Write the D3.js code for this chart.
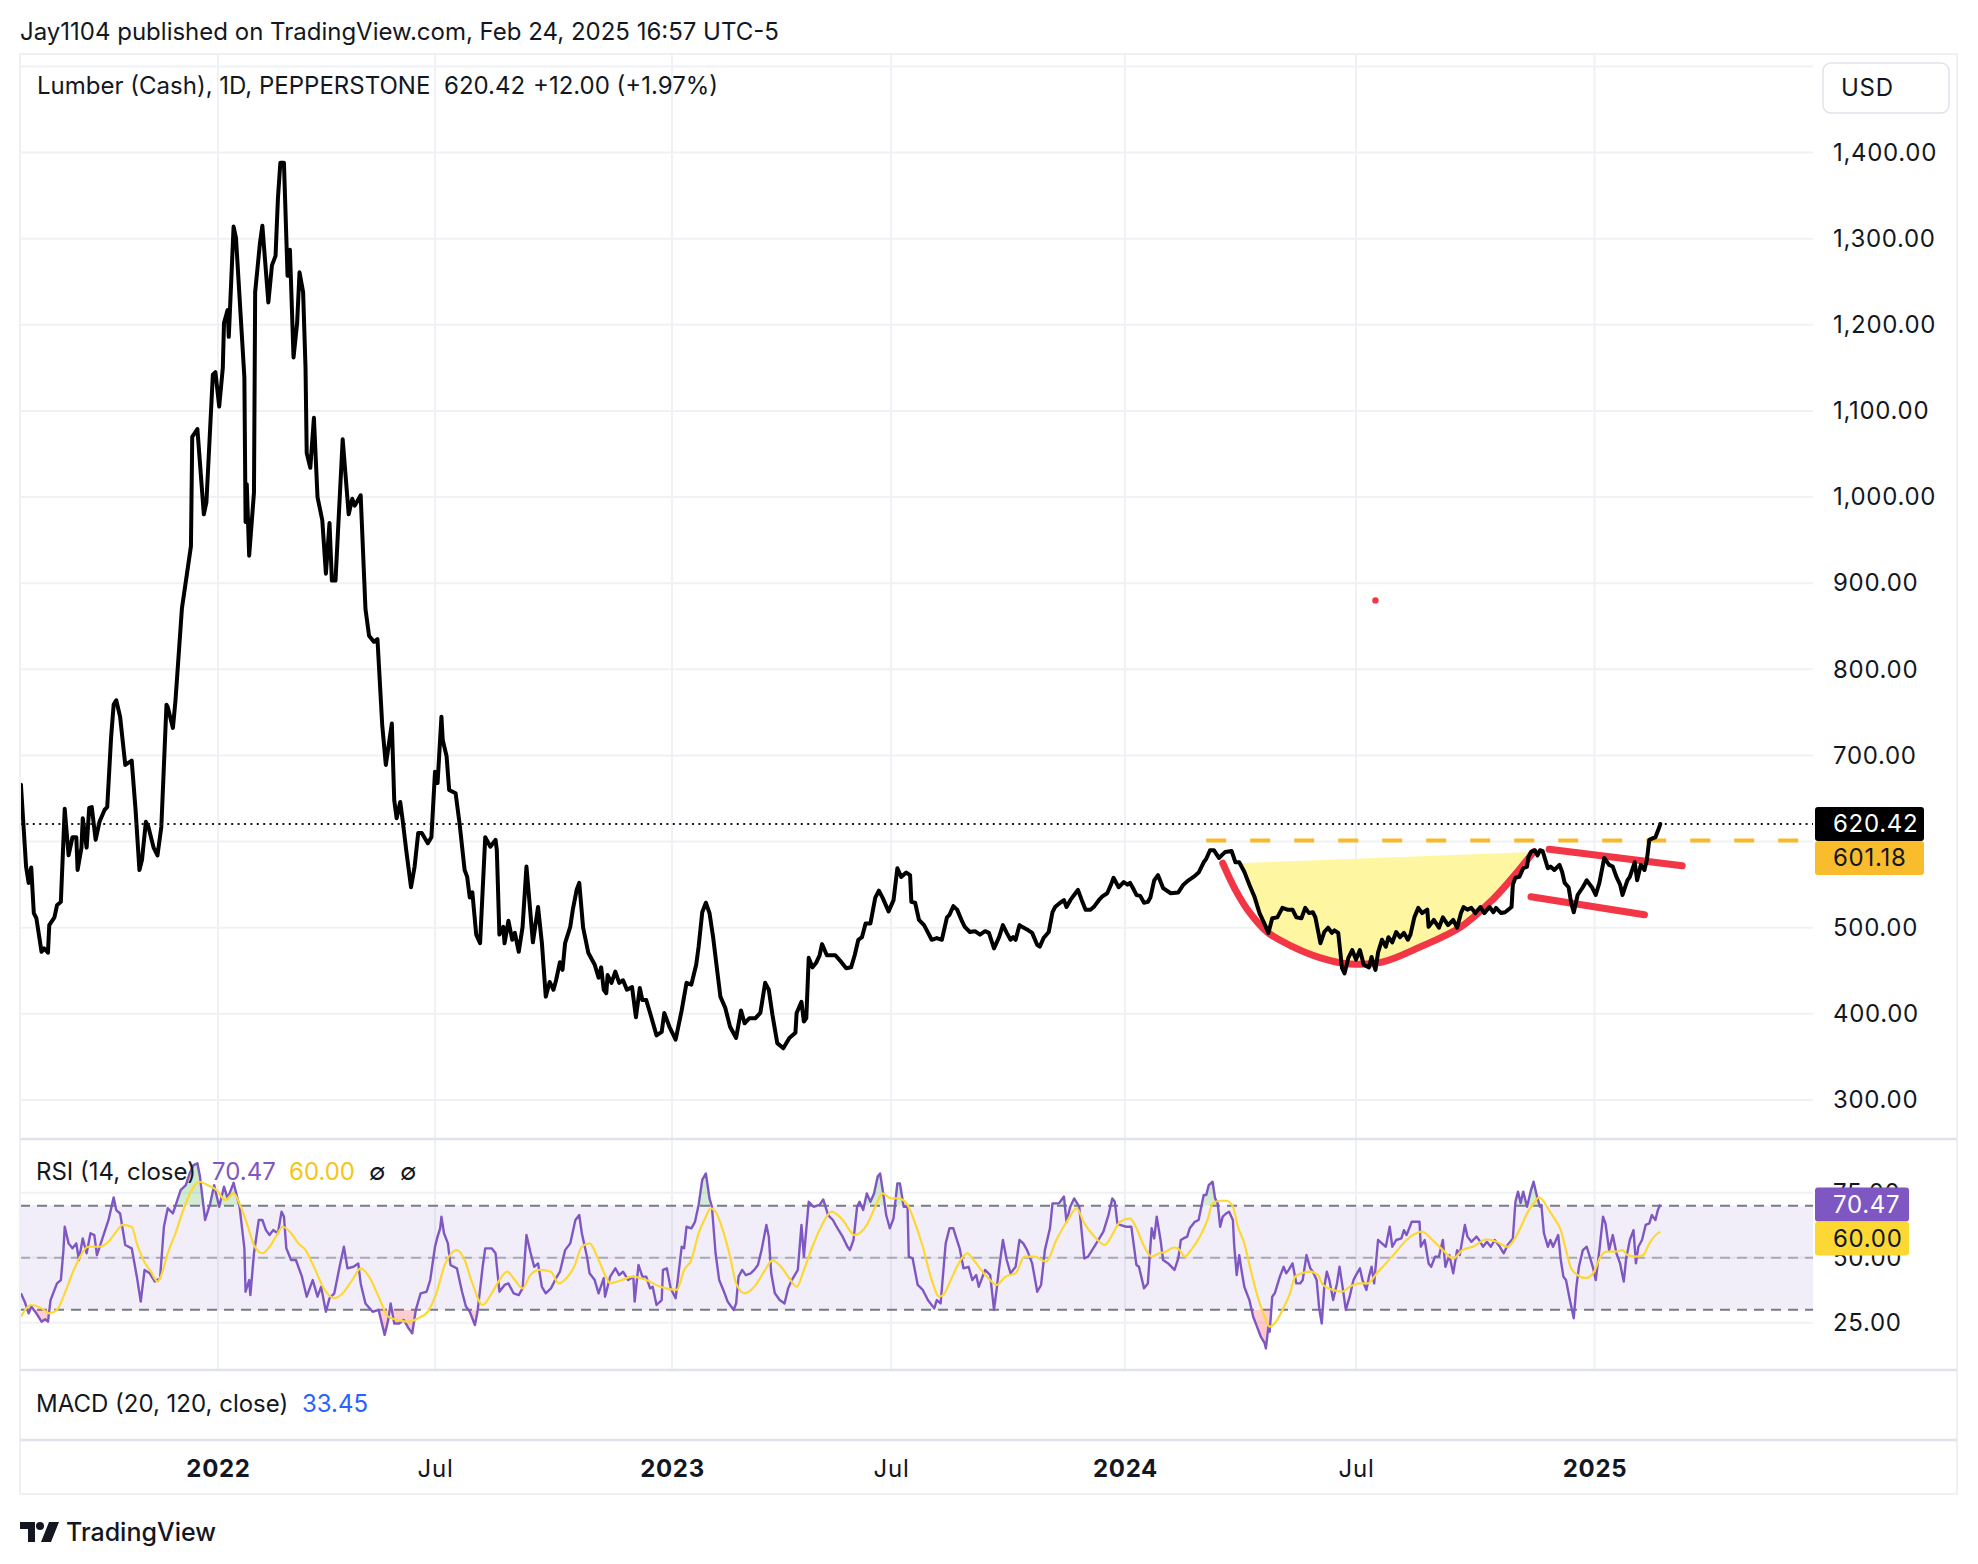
<!DOCTYPE html>
<html>
<head>
<meta charset="utf-8">
<title>Lumber (Cash), 1D</title>
<script src="https://cdn.jsdelivr.net/npm/d3@7"></script>
<style>
  body { margin: 0; background: #fff; }
  svg text { font-family: Inter, "Noto Sans", "Liberation Sans", sans-serif; }
</style>
</head>
<body>
<script>
// ---- values ----
const priceSeries = [
  ["2021-08-01",666],["2021-08-05",571],["2021-08-07",552],["2021-08-09",570],["2021-08-11",517],["2021-08-13",511],
  ["2021-08-17",472],["2021-08-19",476],["2021-08-22",471],["2021-08-23",503],["2021-08-27",512],["2021-08-29",526],
  ["2021-09-01",530],["2021-09-04",638],["2021-09-07",584],["2021-09-10",605],["2021-09-13",605],["2021-09-14",567],
  ["2021-09-17",593],["2021-09-18",627],["2021-09-21",593],["2021-09-23",639],["2021-09-25",640],["2021-09-28",602],
  ["2021-10-01",623],["2021-10-05",637],["2021-10-07",640],["2021-10-10",721],["2021-10-12",759],["2021-10-14",764],
  ["2021-10-17",745],["2021-10-21",689],["2021-10-26",694],["2021-10-29",637],["2021-11-01",567],["2021-11-03",579],
  ["2021-11-06",623],["2021-11-08",617],["2021-11-12",593],["2021-11-15",584],["2021-11-18",617],["2021-11-22",759],
  ["2021-11-23",756],["2021-11-27",732],["2021-11-29",764],["2021-12-04",871],["2021-12-08",912],["2021-12-11",943],
  ["2021-12-12",1070],["2021-12-16",1079],["2021-12-21",980],["2021-12-23",994],["2021-12-28",1142],["2021-12-30",1145],
  ["2022-01-02",1105],["2022-01-05",1150],["2022-01-06",1202],["2022-01-09",1217],["2022-01-10",1186],["2022-01-14",1314],
  ["2022-01-16",1301],["2022-01-23",1139],["2022-01-24",971],["2022-01-25",1015],["2022-01-27",932],["2022-01-31",1005],
  ["2022-02-01",1238],["2022-02-05",1295],["2022-02-07",1315],["2022-02-12",1226],["2022-02-15",1269],["2022-02-18",1280],
  ["2022-02-20",1347],["2022-02-22",1388],["2022-02-25",1388],["2022-02-28",1257],["2022-03-02",1287],["2022-03-05",1162],
  ["2022-03-08",1202],["2022-03-10",1261],["2022-03-13",1238],["2022-03-15",1150],["2022-03-16",1051],["2022-03-19",1034],
  ["2022-03-22",1092],["2022-03-25",1000],["2022-03-29",973],["2022-04-01",911],["2022-04-04",970],["2022-04-06",903],
  ["2022-04-09",903],["2022-04-15",1067],["2022-04-20",980],["2022-04-23",998],["2022-04-25",990],["2022-04-30",1002],
  ["2022-05-04",870],["2022-05-07",839],["2022-05-11",832],["2022-05-14",835],["2022-05-18",735],["2022-05-21",689],
  ["2022-05-26",737],["2022-05-28",648],["2022-05-30",627],["2022-06-02",646],["2022-06-04",625],["2022-06-07",590],
  ["2022-06-11",547],["2022-06-14",571],["2022-06-17",610],["2022-06-20",610],["2022-06-25",598],["2022-06-28",605],
  ["2022-07-01",681],["2022-07-03",668],["2022-07-06",745],["2022-07-07",718],["2022-07-10",699],["2022-07-12",660],
  ["2022-07-17",656],["2022-07-20",622],["2022-07-24",567],["2022-07-26",559],["2022-07-28",535],["2022-07-30",541],
  ["2022-08-02",492],["2022-08-05",482],["2022-08-09",605],["2022-08-13",594],["2022-08-17",602],["2022-08-18",590],
  ["2022-08-20",492],["2022-08-23",501],["2022-08-24",482],["2022-08-27",508],["2022-08-30",486],["2022-09-01",494],
  ["2022-09-04",472],["2022-09-07",501],["2022-09-10",571],["2022-09-12",536],["2022-09-15",483],["2022-09-19",524],
  ["2022-09-22",482],["2022-09-25",420],["2022-09-28",437],["2022-10-01",428],["2022-10-03",439],["2022-10-06",460],
  ["2022-10-08",451],["2022-10-10",482],["2022-10-14",501],["2022-10-16",521],["2022-10-19",544],["2022-10-21",552],
  ["2022-10-24",500],["2022-10-28",471],["2022-11-02",457],["2022-11-05",442],["2022-11-07",454],["2022-11-09",428],
  ["2022-11-11",424],["2022-11-12",445],["2022-11-15",436],["2022-11-18",449],["2022-11-21",436],["2022-11-24",439],
  ["2022-11-27",428],["2022-12-01",431],["2022-12-04",396],["2022-12-07",430],["2022-12-09",416],["2022-12-12",416],
  ["2022-12-15",401],["2022-12-20",375],["2022-12-24",379],["2022-12-26",401],["2022-12-30",385],
  ["2023-01-04",370],["2023-01-09",404],["2023-01-13",436],["2023-01-17",434],["2023-01-21",457],["2023-01-23",478],
  ["2023-01-26",518],["2023-01-29",529],["2023-02-01",517],["2023-02-04",489],["2023-02-07",454],["2023-02-10",420],
  ["2023-02-14",407],["2023-02-18",385],["2023-02-23",372],["2023-02-27",404],["2023-03-02",389],["2023-03-06",395],
  ["2023-03-11",395],["2023-03-15",401],["2023-03-19",436],["2023-03-22",428],["2023-03-25",399],["2023-03-29",366],
  ["2023-04-03",360],["2023-04-08",372],["2023-04-13",378],["2023-04-14",401],["2023-04-18",414],["2023-04-20",391],
  ["2023-04-22",395],["2023-04-24",465],["2023-04-27",454],["2023-04-30",459],["2023-05-03",468],["2023-05-05",481],
  ["2023-05-09",468],["2023-05-16",468],["2023-05-21",460],["2023-05-25",453],["2023-05-29",454],["2023-06-01",468],
  ["2023-06-04",486],["2023-06-07",489],["2023-06-10",505],["2023-06-14",505],["2023-06-18",535],["2023-06-21",543],
  ["2023-06-24",535],["2023-06-29",519],["2023-07-03",532],["2023-07-06",569],["2023-07-09",559],["2023-07-13",564],
  ["2023-07-16",561],["2023-07-17",530],["2023-07-20",529],["2023-07-23",509],["2023-07-27",503],["2023-08-02",486],
  ["2023-08-06",488],["2023-08-10",486],["2023-08-14",512],["2023-08-16",515],["2023-08-19",525],["2023-08-22",521],
  ["2023-08-26",507],["2023-08-28",501],["2023-09-01",495],["2023-09-05",496],["2023-09-09",492],["2023-09-13",496],
  ["2023-09-16",494],["2023-09-20",476],["2023-09-24",489],["2023-09-27",503],["2023-09-30",494],["2023-10-03",486],
  ["2023-10-05",489],["2023-10-07",486],["2023-10-10",503],["2023-10-12",501],["2023-10-17",497],["2023-10-20",494],
  ["2023-10-24",480],["2023-10-26",478],["2023-10-29",488],["2023-11-02",495],["2023-11-05",518],["2023-11-07",524],
  ["2023-11-11",529],["2023-11-14",532],["2023-11-16",524],["2023-11-19",532],["2023-11-23",540],["2023-11-25",544],
  ["2023-11-28",532],["2023-12-01",521],["2023-12-05",521],["2023-12-08",525],["2023-12-12",533],["2023-12-14",536],
  ["2023-12-18",540],["2023-12-21",550],["2023-12-23",558],["2023-12-27",547],["2023-12-31",553],
  ["2024-01-03",550],["2024-01-05",552],["2024-01-08",544],["2024-01-10",538],["2024-01-13",537],["2024-01-16",529],
  ["2024-01-19",530],["2024-01-21",535],["2024-01-24",555],["2024-01-27",561],["2024-01-31",546],["2024-02-06",540],
  ["2024-02-12",541],["2024-02-16",550],["2024-02-20",555],["2024-02-24",559],["2024-02-28",564],["2024-03-03",576],
  ["2024-03-05",580],["2024-03-08",590],["2024-03-11",590],["2024-03-15",581],["2024-03-20",588],["2024-03-25",589],
  ["2024-03-28",576],["2024-03-31",576],["2024-04-04",565],["2024-04-08",550],["2024-04-12",536],["2024-04-16",517],
  ["2024-04-21",501],["2024-04-23",494],["2024-04-26",511],["2024-04-30",512],["2024-05-04",523],["2024-05-08",521],
  ["2024-05-12",521],["2024-05-15",512],["2024-05-19",511],["2024-05-22",523],["2024-05-25",517],["2024-05-28",518],
  ["2024-05-30",512],["2024-06-03",482],["2024-06-06",495],["2024-06-09",500],["2024-06-12",494],["2024-06-14",497],
  ["2024-06-17",494],["2024-06-20",453],["2024-06-22",447],["2024-06-25",465],["2024-06-28",474],["2024-07-01",463],
  ["2024-07-04",474],["2024-07-07",457],["2024-07-11",454],["2024-07-13",466],["2024-07-16",451],["2024-07-18",471],
  ["2024-07-21",486],["2024-07-24",478],["2024-07-26",489],["2024-07-29",483],["2024-08-01",495],["2024-08-04",489],
  ["2024-08-07",494],["2024-08-10",486],["2024-08-12",492],["2024-08-15",512],["2024-08-18",523],["2024-08-21",517],
  ["2024-08-25",521],["2024-08-26",501],["2024-08-30",509],["2024-09-03",500],["2024-09-06",512],["2024-09-10",503],
  ["2024-09-14",509],["2024-09-17",500],["2024-09-20",517],["2024-09-22",524],["2024-09-25",521],["2024-09-28",523],
  ["2024-10-01",517],["2024-10-05",524],["2024-10-08",517],["2024-10-12",524],["2024-10-15",518],["2024-10-17",523],
  ["2024-10-21",517],["2024-10-24",518],["2024-10-29",524],["2024-10-30",550],["2024-11-01",558],["2024-11-04",559],
  ["2024-11-07",569],["2024-11-10",571],["2024-11-11",582],["2024-11-13",588],["2024-11-16",590],["2024-11-18",584],
  ["2024-11-20",590],["2024-11-22",589],["2024-11-24",579],["2024-11-26",569],["2024-11-28",571],["2024-12-01",567],
  ["2024-12-05",573],["2024-12-07",565],["2024-12-09",552],["2024-12-12",547],["2024-12-14",529],["2024-12-16",518],
  ["2024-12-19",538],["2024-12-23",547],["2024-12-26",555],["2024-12-30",547],
  ["2025-01-02",538],["2025-01-05",552],["2025-01-09",581],["2025-01-13",573],["2025-01-16",571],["2025-01-19",559],
  ["2025-01-22",550],["2025-01-24",538],["2025-01-28",555],["2025-01-30",559],["2025-02-03",576],["2025-02-05",555],
  ["2025-02-08",573],["2025-02-11",567],["2025-02-13",579],["2025-02-15",602],["2025-02-18",604],["2025-02-20",605],
  ["2025-02-23",616],["2025-02-24",620.42]
];

const rsiSeries = [
  ["2021-08-01",36.3],["2021-08-04",33],["2021-08-07",28.6],["2021-08-09",31.2],["2021-08-13",28.6],["2021-08-17",25.4],
  ["2021-08-20",26.3],["2021-08-22",25.4],["2021-08-24",33.7],["2021-08-26",36.3],["2021-08-29",40.1],["2021-09-01",41.4],
  ["2021-09-03",52.9],["2021-09-04",61.9],["2021-09-07",55.5],["2021-09-10",53.6],["2021-09-13",55.5],["2021-09-15",49.1],
  ["2021-09-18",57.4],["2021-09-21",51.7],["2021-09-24",59.4],["2021-09-27",58.7],["2021-09-29",51],["2021-10-02",55.5],
  ["2021-10-08",64.5],["2021-10-12",73.2],["2021-10-14",68.3],["2021-10-17",67],["2021-10-21",54.9],["2021-10-26",53.6],
  ["2021-10-30",42.7],["2021-11-02",33.1],["2021-11-05",45.3],["2021-11-09",44],["2021-11-13",40.8],["2021-11-17",42.1],
  ["2021-11-20",61.9],["2021-11-23",69],["2021-11-27",67],["2021-12-03",76],["2021-12-07",77.9],["2021-12-10",82.4],
  ["2021-12-13",85.6],["2021-12-16",86.3],["2021-12-18",81.2],["2021-12-22",64.5],["2021-12-26",70.9],["2021-12-29",77.9],
  ["2022-01-02",69.6],["2022-01-06",77.3],["2022-01-09",72.8],["2022-01-14",78.8],["2022-01-19",69.6],["2022-01-23",53.6],
  ["2022-01-24",36.9],["2022-01-27",41.4],["2022-01-28",35.6],["2022-01-31",51.7],["2022-02-04",64.5],["2022-02-07",64.5],
  ["2022-02-10",60.6],["2022-02-13",58.7],["2022-02-16",60.6],["2022-02-20",59.4],["2022-02-23",67.7],["2022-02-25",65.8],
  ["2022-02-27",53.6],["2022-03-03",49.1],["2022-03-07",49.1],["2022-03-12",42.7],["2022-03-16",35],["2022-03-21",41.4],
  ["2022-03-25",35],["2022-03-28",38.8],["2022-04-01",29.2],["2022-04-04",34.4],["2022-04-08",36.3],["2022-04-13",47.8],
  ["2022-04-16",54.2],["2022-04-19",45.9],["2022-04-24",46.5],["2022-04-28",47.8],["2022-04-30",40.1],["2022-05-04",32.4],
  ["2022-05-10",29.2],["2022-05-15",29.9],["2022-05-20",20.3],["2022-05-23",26],["2022-05-25",32.4],["2022-05-28",24.7],
  ["2022-06-01",24.7],["2022-06-05",26],["2022-06-09",22.8],["2022-06-12",20.9],["2022-06-15",29.9],["2022-06-19",36.3],
  ["2022-06-24",36.9],["2022-06-27",41.4],["2022-07-01",54.2],["2022-07-03",58.1],["2022-07-05",61.3],["2022-07-06",65.8],
  ["2022-07-08",59.4],["2022-07-11",55.5],["2022-07-13",47.2],["2022-07-18",45.9],["2022-07-22",36.9],["2022-07-25",31.2],
  ["2022-07-28",29.2],["2022-08-01",24.1],["2022-08-03",29.2],["2022-08-07",46.5],["2022-08-09",53.6],["2022-08-14",53.6],
  ["2022-08-17",51.7],["2022-08-20",36.9],["2022-08-24",39.5],["2022-08-27",40.1],["2022-08-31",36.3],["2022-09-04",35.6],
  ["2022-09-07",38.2],["2022-09-10",58.7],["2022-09-13",52.3],["2022-09-16",46.5],["2022-09-19",47.8],["2022-09-22",38.8],
  ["2022-09-25",36.3],["2022-09-29",38.2],["2022-10-03",42.1],["2022-10-06",44.6],["2022-10-10",52.9],["2022-10-14",55.5],
  ["2022-10-18",64.5],["2022-10-21",66.4],["2022-10-23",59.4],["2022-10-27",50.4],["2022-10-29",44],["2022-11-02",41.4],
  ["2022-11-05",36.3],["2022-11-09",42.1],["2022-11-10",35],["2022-11-14",42.7],["2022-11-18",45.9],["2022-11-21",43.3],
  ["2022-11-24",44.6],["2022-11-28",41.4],["2022-12-02",42.7],["2022-12-03",33.1],["2022-12-06",47.2],["2022-12-09",42.7],
  ["2022-12-12",42.7],["2022-12-15",38.2],["2022-12-17",38.8],["2022-12-20",31.8],["2022-12-24",33.7],["2022-12-25",45.3],
  ["2022-12-28",45.9],["2022-12-31",38.2],
  ["2023-01-04",34.4],["2023-01-09",54.2],["2023-01-11",53.6],["2023-01-13",61.9],["2023-01-17",61.3],["2023-01-20",63.8],
  ["2023-01-23",70.3],["2023-01-26",79.9],["2023-01-29",82.4],["2023-02-01",72.8],["2023-02-03",69.6],["2023-02-06",51.7],
  ["2023-02-09",41.4],["2023-02-13",36.9],["2023-02-16",33.1],["2023-02-21",29.9],["2023-02-23",32.4],["2023-02-25",42.7],
  ["2023-02-28",45.3],["2023-03-03",43.3],["2023-03-07",44],["2023-03-10",45.3],["2023-03-13",47.2],["2023-03-16",52.9],
  ["2023-03-20",62.6],["2023-03-22",58.1],["2023-03-24",44],["2023-03-27",36.3],["2023-03-31",33.7],["2023-04-04",32.4],
  ["2023-04-07",38.2],["2023-04-10",41.4],["2023-04-15",45.3],["2023-04-18",62.6],["2023-04-20",50.4],["2023-04-24",71.5],
  ["2023-04-28",69.6],["2023-05-03",70.3],["2023-05-06",72.4],["2023-05-10",66.4],["2023-05-14",64.5],["2023-05-17",61.9],
  ["2023-05-22",58.1],["2023-05-26",54.2],["2023-05-28",52.9],["2023-05-31",56.8],["2023-06-03",69.6],["2023-06-05",71.5],
  ["2023-06-08",68.3],["2023-06-11",74.7],["2023-06-14",71.5],["2023-06-17",74.7],["2023-06-20",81.2],["2023-06-22",82.4],
  ["2023-06-25",73.5],["2023-06-27",66.4],["2023-06-30",61.3],["2023-07-03",65.1],["2023-07-06",78.6],["2023-07-08",78.6],
  ["2023-07-11",69.6],["2023-07-14",69.6],["2023-07-15",50.4],["2023-07-18",49.7],["2023-07-22",39.5],["2023-07-26",37.6],
  ["2023-07-30",33.7],["2023-08-04",30.5],["2023-08-06",33.7],["2023-08-09",32.4],["2023-08-13",55.5],["2023-08-16",61.3],
  ["2023-08-19",61.3],["2023-08-21",58.1],["2023-08-24",53.6],["2023-08-27",45.9],["2023-08-31",46.5],["2023-09-03",41.4],
  ["2023-09-06",43.3],["2023-09-08",38.8],["2023-09-13",45.3],["2023-09-17",43.3],["2023-09-20",29.9],["2023-09-22",37.6],
  ["2023-09-24",45.9],["2023-09-27",56.8],["2023-09-30",49.1],["2023-10-03",44],["2023-10-07",46.5],["2023-10-10",56.8],
  ["2023-10-13",55.5],["2023-10-16",52.9],["2023-10-20",47.8],["2023-10-24",36.9],["2023-10-27",39.5],["2023-10-30",52.9],
  ["2023-11-03",61.3],["2023-11-05",70.9],["2023-11-10",70.9],["2023-11-14",73.5],["2023-11-16",63.8],["2023-11-19",69.6],
  ["2023-11-22",72.8],["2023-11-26",69.6],["2023-11-30",49.7],["2023-12-03",50.4],["2023-12-07",53.6],["2023-12-11",56.8],
  ["2023-12-15",60],["2023-12-19",66.4],["2023-12-22",72.8],["2023-12-24",71.5],["2023-12-26",63.2],["2023-12-28",62.6],
  ["2024-01-02",61.9],["2024-01-06",61.9],["2024-01-10",47.2],["2024-01-12",46.5],["2024-01-16",38.2],["2024-01-19",40.1],
  ["2024-01-22",61.3],["2024-01-24",57.4],["2024-01-26",65.8],["2024-01-29",56.8],["2024-01-31",49.1],["2024-02-04",47.8],
  ["2024-02-09",45.3],["2024-02-12",49.7],["2024-02-14",56.8],["2024-02-16",57.4],["2024-02-19",58.1],["2024-02-21",61.3],
  ["2024-02-25",63.8],["2024-02-28",64.5],["2024-03-03",74.1],["2024-03-05",74.1],["2024-03-07",77.9],["2024-03-10",79.2],
  ["2024-03-12",72.8],["2024-03-14",70.9],["2024-03-16",61.9],["2024-03-18",65.8],["2024-03-21",67.1],["2024-03-23",67.7],
  ["2024-03-26",64.5],["2024-03-27",54.9],["2024-03-29",43.3],["2024-03-31",51],["2024-04-02",44.6],["2024-04-04",38.8],
  ["2024-04-08",33.7],["2024-04-11",27.3],["2024-04-14",23.5],["2024-04-17",19.6],["2024-04-20",17.1],["2024-04-21",15.1],
  ["2024-04-23",23.5],["2024-04-24",21.5],["2024-04-26",35],["2024-04-28",36.3],["2024-05-02",42.7],["2024-05-05",46.5],
  ["2024-05-07",44],["2024-05-09",45.3],["2024-05-12",47.8],["2024-05-15",40.1],["2024-05-18",40.1],["2024-05-20",41.4],
  ["2024-05-23",51],["2024-05-26",45.9],["2024-05-28",44.6],["2024-05-31",41.4],["2024-06-02",30.5],["2024-06-04",24.7],
  ["2024-06-06",38.8],["2024-06-08",44.6],["2024-06-10",41.4],["2024-06-13",33.7],["2024-06-16",40.1],["2024-06-18",46.5],
  ["2024-06-20",40.1],["2024-06-23",29.9],["2024-06-26",35],["2024-06-29",41.4],["2024-07-01",43.3],["2024-07-04",45.9],
  ["2024-07-06",41.4],["2024-07-09",37.6],["2024-07-11",42.7],["2024-07-13",46.5],["2024-07-15",40.1],["2024-07-18",56.8],
  ["2024-07-21",55.5],["2024-07-24",54.2],["2024-07-27",61.9],["2024-07-29",54.2],["2024-08-01",56.8],["2024-08-05",57.4],
  ["2024-08-07",60.6],["2024-08-09",58.7],["2024-08-13",63.8],["2024-08-17",63.8],["2024-08-19",63.8],["2024-08-20",54.2],
  ["2024-08-23",56.8],["2024-08-26",47.8],["2024-08-28",46.5],["2024-08-31",50.4],["2024-09-03",50.4],["2024-09-06",56.8],
  ["2024-09-08",46.5],["2024-09-11",51],["2024-09-14",44],["2024-09-17",52.9],["2024-09-19",51],["2024-09-23",62.6],
  ["2024-09-25",58.1],["2024-09-28",56.1],["2024-10-02",58.1],["2024-10-04",56.8],["2024-10-07",54.2],["2024-10-10",56.1],
  ["2024-10-13",54.2],["2024-10-16",56.8],["2024-10-20",54.2],["2024-10-23",51.7],["2024-10-26",54.9],["2024-10-30",57.4],
  ["2024-11-01",71.5],["2024-11-03",75.4],["2024-11-05",71],["2024-11-07",75.4],["2024-11-10",69.6],["2024-11-13",76],
  ["2024-11-15",79.2],["2024-11-18",72.8],["2024-11-20",69.6],["2024-11-21",70.3],["2024-11-23",59.4],["2024-11-26",54.2],
  ["2024-11-28",56.8],["2024-11-30",54.2],["2024-12-04",58.7],["2024-12-06",49.1],["2024-12-08",42.7],["2024-12-10",41.4],
  ["2024-12-13",33.7],["2024-12-16",26.7],["2024-12-18",38.8],["2024-12-20",46.5],["2024-12-23",52.9],["2024-12-26",54.2],
  ["2024-12-28",51],["2024-12-31",45.9],
  ["2025-01-02",41.4],["2025-01-05",52.9],["2025-01-08",65.8],["2025-01-10",63.2],["2025-01-13",52.9],["2025-01-16",58.7],
  ["2025-01-19",51.7],["2025-01-22",47.8],["2025-01-25",40.8],["2025-01-27",49.7],["2025-01-30",56.8],["2025-02-02",60.6],
  ["2025-02-04",47.8],["2025-02-06",54.2],["2025-02-09",56.8],["2025-02-12",62.6],["2025-02-15",63.2],["2025-02-17",66.4],
  ["2025-02-20",64.5],["2025-02-22",68.3],["2025-02-24",70.47]
];

const rsiMaSeries = [
  ["2021-08-01",27.3],["2021-08-09",31.8],["2021-08-17",30.5],["2021-08-23",28.6],["2021-08-29",29.9],["2021-09-04",36.3],
  ["2021-09-10",44],["2021-09-16",50.4],["2021-09-22",54.2],["2021-10-01",54.2],["2021-10-08",56.2],["2021-10-14",60],
  ["2021-10-19",62.6],["2021-10-26",61.9],["2021-10-30",55.5],["2021-11-04",49.1],["2021-11-10",44.6],["2021-11-15",40.8],
  ["2021-11-18",43.3],["2021-11-23",51.7],["2021-11-29",59.4],["2021-12-05",68.3],["2021-12-11",75.4],["2021-12-17",79.2],
  ["2021-12-24",77.9],["2021-12-31",76],["2022-01-07",72.2],["2022-01-14",74.7],["2022-01-20",69.6],["2022-01-26",61.9],
  ["2022-01-31",54.9],["2022-02-07",51.7],["2022-02-13",54.2],["2022-02-19",58.7],["2022-02-24",61.9],["2022-03-03",59.4],
  ["2022-03-09",55.5],["2022-03-15",52.9],["2022-03-22",46.5],["2022-03-31",37.6],["2022-04-08",34.4],["2022-04-15",36.3],
  ["2022-04-23",41.4],["2022-04-30",45.9],["2022-05-07",42.7],["2022-05-15",35],["2022-05-23",27.3],["2022-05-31",26],
  ["2022-06-09",25.4],["2022-06-17",26.7],["2022-06-25",29.2],["2022-07-02",36.3],["2022-07-09",47.8],["2022-07-18",52.9],
  ["2022-07-24",49.1],["2022-07-30",40.1],["2022-08-07",31.8],["2022-08-14",36.3],["2022-08-20",41.4],["2022-08-26",44.6],
  ["2022-09-01",41.4],["2022-09-07",38.2],["2022-09-13",43.3],["2022-09-20",45.3],["2022-09-29",44.6],["2022-10-05",40.1],
  ["2022-10-11",42.1],["2022-10-17",46.5],["2022-10-23",54.2],["2022-10-29",55.5],["2022-11-05",49.1],["2022-11-12",41.4],
  ["2022-11-14",40.1],["2022-11-23",41.4],["2022-12-01",42.7],["2022-12-12",41.4],["2022-12-23",38.8],["2023-01-05",37.6],
  ["2023-01-11",45.3],["2023-01-17",49.1],["2023-01-23",59.4],["2023-01-29",65.8],["2023-02-02",69],["2023-02-06",67.7],
  ["2023-02-12",60.6],["2023-02-18",50.4],["2023-02-23",40.1],["2023-03-02",36.3],["2023-03-10",38.8],["2023-03-19",45.3],
  ["2023-03-25",49.1],["2023-04-01",46.5],["2023-04-08",42.1],["2023-04-14",38.8],["2023-04-20",45.3],["2023-04-27",54.2],
  ["2023-05-05",62.6],["2023-05-13",67.7],["2023-05-22",64.5],["2023-06-01",58.7],["2023-06-11",62.6],["2023-06-18",69.6],
  ["2023-06-24",74.7],["2023-07-01",72.8],["2023-07-07",72.8],["2023-07-14",70.3],["2023-07-19",64.5],["2023-07-26",54.2],
  ["2023-08-02",41.4],["2023-08-08",35],["2023-08-12",36.3],["2023-08-17",41.4],["2023-08-24",48.5],["2023-08-30",51.7],
  ["2023-09-04",49.1],["2023-09-11",44.6],["2023-09-17",41.4],["2023-09-22",39.5],["2023-09-29",42.7],["2023-10-07",44],
  ["2023-10-14",50.4],["2023-10-22",50.4],["2023-10-31",48.5],["2023-11-08",56.8],["2023-11-17",64.5],["2023-11-24",69],
  ["2023-11-30",63.2],["2023-12-08",58.1],["2023-12-16",54.9],["2023-12-24",60.6],["2023-12-28",63.8],["2024-01-05",65.1],
  ["2024-01-10",61.3],["2024-01-15",55.5],["2024-01-22",50.4],["2024-01-28",51.7],["2024-02-02",52.3],["2024-02-09",54],
  ["2024-02-13",53],["2024-02-17",50.4],["2024-02-22",52.9],["2024-02-29",58.1],["2024-03-06",64.5],["2024-03-10",70.9],
  ["2024-03-16",71.9],["2024-03-21",71.9],["2024-03-26",69.6],["2024-03-30",61.9],["2024-04-04",55.5],["2024-04-09",45.3],
  ["2024-04-13",37.6],["2024-04-19",28.6],["2024-04-24",23.5],["2024-04-29",25.4],["2024-05-04",29.9],["2024-05-10",36.3],
  ["2024-05-14",42.7],["2024-05-19",44],["2024-05-26",44.6],["2024-06-01",43.3],["2024-06-05",39.5],["2024-06-13",37.6],
  ["2024-06-20",36.9],["2024-06-26",38.8],["2024-07-04",40.1],["2024-07-10",40.1],["2024-07-17",44],["2024-07-24",47.8],
  ["2024-08-01",52.3],["2024-08-09",56.8],["2024-08-14",58.7],["2024-08-21",60],["2024-08-29",56.8],["2024-09-06",52.9],
  ["2024-09-14",49.7],["2024-09-21",52.9],["2024-09-29",54.2],["2024-10-10",57.1],["2024-10-17",56.2],["2024-10-26",54.2],
  ["2024-10-30",56.2],["2024-11-04",60.6],["2024-11-10",67.1],["2024-11-16",71.5],["2024-11-19",73.2],["2024-11-22",72.2],
  ["2024-11-26",69],["2024-12-01",65.1],["2024-12-06",60.6],["2024-12-10",52.9],["2024-12-14",45.9],["2024-12-19",43.3],
  ["2024-12-25",42.1],["2024-12-31",44],["2025-01-06",50.4],["2025-01-11",52.3],["2025-01-18",52.3],["2025-01-24",52.9],
  ["2025-01-28",51],["2025-02-04",50.4],["2025-02-10",51],["2025-02-15",55.5],["2025-02-19",58.1],["2025-02-24",60]
];

const priceTicks = [300, 400, 500, 600, 700, 800, 900, 1000, 1100, 1200, 1300, 1400, 1500];
const rsiTicks = [25, 50, 75];
const rsiLevels = [70, 50, 30];
const timeTicks = ["2022-01-01","2022-07-01","2023-01-01","2023-07-01","2024-01-01","2024-07-01","2025-01-01"];
const timeTickLabels = ["2022","Jul","2023","Jul","2024","Jul","2025"];

const lastPrice = 620.42;
const lastRsi = 70.47;
const lastRsiMa = 60.00;
const macdValue = 33.45;

// user drawings on the chart
const breakoutLevel = 601.18;
const breakoutStart = "2024-03-05";
const cupArc = [["2024-03-18",575],["2024-03-28",544],["2024-04-08",518],["2024-04-22",495],["2024-05-12",478],
  ["2024-06-03",465],["2024-06-26",458],["2024-07-21",460],["2024-08-20",478],["2024-09-20",501],["2024-10-14",532],
  ["2024-10-28",555],["2024-11-15",588]];
const cupFill = [["2024-04-01",575],["2024-04-09",538],["2024-04-22",495],["2024-05-12",478],["2024-06-03",465],
  ["2024-06-26",458],["2024-07-21",460],["2024-08-20",478],["2024-09-20",501],["2024-10-14",532],["2024-10-28",555],
  ["2024-11-15",588]];
const channelUpper = [["2024-11-27",591],["2025-03-14",572]];
const channelLower = [["2024-11-13",536],["2025-02-11",515]];
const markerDot = [["2024-07-16",880]];

// ---- layout ----
const W = 1978, H = 1564;
const frame = {left: 20, right: 1957, top: 54, bottom: 1494};
const plotRight = 1813;
const mainPane = {top: 54, bottom: 1139};
const rsiPane = {top: 1139, bottom: 1370};
const macdPane = {top: 1370, bottom: 1440};
const axisX = 1833;
const FONT_SIZE = 24;
const AXIS_SIZE = 24;
const TEXT = "#131722";
const RED = "#F23645";

// TradingView spaces bars, not calendar days: piecewise time scale anchored on the half-year ticks
const timeAnchors = ["2021-07-01","2022-01-01","2022-07-01","2023-01-01","2023-07-01","2024-01-01","2024-07-01","2025-01-01","2025-07-01"];
const timeAnchorPx = [-19, 218, 435, 672, 891, 1125, 1356, 1594.5, 1815];

const parse = d3.utcParse("%Y-%m-%d");
const pts = arr => arr.map(([d, v]) => ({date: parse(d), v}));

const x = d3.scaleUtc().domain(timeAnchors.map(parse)).range(timeAnchorPx);
const y = d3.scaleLinear().domain([254.7, 1514.4]).range([mainPane.bottom, mainPane.top]);
const yR = d3.scaleLinear().domain([6.8, 95.65]).range([rsiPane.bottom, rsiPane.top]);

const svg = d3.select("body").append("svg")
  .attr("width", W).attr("height", H)
  .style("display", "block");

svg.append("rect").attr("width", W).attr("height", H).attr("fill", "#fff");

const defs = svg.append("defs");
defs.append("clipPath").attr("id", "mainClip").append("rect")
  .attr("x", frame.left).attr("y", mainPane.top)
  .attr("width", plotRight - frame.left).attr("height", mainPane.bottom - mainPane.top);
defs.append("clipPath").attr("id", "obClip").append("rect")
  .attr("x", frame.left).attr("y", rsiPane.top)
  .attr("width", plotRight - frame.left).attr("height", yR(70) - rsiPane.top);
defs.append("clipPath").attr("id", "osClip").append("rect")
  .attr("x", frame.left).attr("y", yR(30))
  .attr("width", plotRight - frame.left).attr("height", rsiPane.bottom - yR(30));

const gGreen = defs.append("linearGradient").attr("id", "obGrad").attr("x1", 0).attr("x2", 0).attr("y1", 0).attr("y2", 1);
gGreen.append("stop").attr("offset", "0%").attr("stop-color", "rgba(76,175,80,0.3)");
gGreen.append("stop").attr("offset", "100%").attr("stop-color", "rgba(76,175,80,0.02)");
const gRed = defs.append("linearGradient").attr("id", "osGrad").attr("x1", 0).attr("x2", 0).attr("y1", 0).attr("y2", 1);
gRed.append("stop").attr("offset", "0%").attr("stop-color", "rgba(242,54,69,0.02)");
gRed.append("stop").attr("offset", "100%").attr("stop-color", "rgba(242,54,69,0.3)");

// ---- grid ----
const grid = svg.append("g").attr("stroke", "#F0F1F4").attr("stroke-width", 2);
grid.selectAll("line.vx").data(timeTicks).join("line").attr("class", "vx")
  .attr("x1", d => x(parse(d))).attr("x2", d => x(parse(d)))
  .attr("y1", mainPane.top).attr("y2", rsiPane.bottom);
grid.selectAll("line.hy").data(priceTicks).join("line").attr("class", "hy")
  .attr("x1", frame.left).attr("x2", plotRight)
  .attr("y1", d => y(d)).attr("y2", d => y(d));
grid.selectAll("line.hr").data(rsiTicks).join("line").attr("class", "hr")
  .attr("x1", frame.left).attr("x2", plotRight)
  .attr("y1", d => yR(d)).attr("y2", d => yR(d));

// ---- RSI band + levels ----
svg.append("rect")
  .attr("x", frame.left).attr("y", yR(70))
  .attr("width", plotRight - frame.left).attr("height", yR(30) - yR(70))
  .attr("fill", "rgba(126,87,194,0.1)");
svg.append("g").selectAll("line").data(rsiLevels).join("line")
  .attr("x1", frame.left).attr("x2", plotRight)
  .attr("y1", d => yR(d)).attr("y2", d => yR(d))
  .attr("stroke", "#787B86").attr("stroke-width", 2)
  .attr("stroke-opacity", d => d === 50 ? 0.55 : 1)
  .attr("stroke-dasharray", "10,7");

// ---- drawings ----
const draw = svg.append("g").attr("clip-path", "url(#mainClip)");
const curve = d3.line().x(d => x(d.date)).y(d => y(d.v)).curve(d3.curveCatmullRom.alpha(0.5));

draw.append("path").attr("d", curve(pts(cupFill)) + "Z")
  .attr("fill", "#FFF59D").attr("fill-opacity", 0.95);
draw.append("path").attr("d", curve(pts(cupArc)))
  .attr("fill", "none").attr("stroke", RED).attr("stroke-width", 7).attr("stroke-linecap", "round");

const straight = d3.line().x(d => x(d.date)).y(d => y(d.v));
draw.selectAll("path.chan").data([channelUpper, channelLower]).join("path").attr("class", "chan")
  .attr("d", d => straight(pts(d)))
  .attr("fill", "none").attr("stroke", RED).attr("stroke-width", 7).attr("stroke-linecap", "round");

draw.append("line")
  .attr("x1", x(parse(breakoutStart))).attr("x2", plotRight)
  .attr("y1", y(breakoutLevel)).attr("y2", y(breakoutLevel))
  .attr("stroke", "#F9B92C").attr("stroke-width", 4).attr("stroke-dasharray", "20,24");

draw.selectAll("circle").data(pts(markerDot)).join("circle")
  .attr("cx", d => x(d.date)).attr("cy", d => y(d.v)).attr("r", 3.2).attr("fill", RED);

// ---- price ----
draw.append("path").datum(pts(priceSeries))
  .attr("d", straight)
  .attr("fill", "none").attr("stroke", "#000").attr("stroke-width", 4)
  .attr("stroke-linejoin", "round").attr("stroke-linecap", "round");

svg.append("line")
  .attr("x1", frame.left).attr("x2", plotRight)
  .attr("y1", y(lastPrice)).attr("y2", y(lastPrice))
  .attr("stroke", TEXT).attr("stroke-width", 2).attr("stroke-dasharray", "2,4.4");

// ---- RSI ----
const rsiPts = pts(rsiSeries);
const rsiLine = d3.line().x(d => x(d.date)).y(d => yR(d.v));
svg.append("path").datum(rsiPts).attr("clip-path", "url(#obClip)")
  .attr("d", d3.area().x(d => x(d.date)).y0(yR(70)).y1(d => yR(d.v)))
  .attr("fill", "url(#obGrad)");
svg.append("path").datum(rsiPts).attr("clip-path", "url(#osClip)")
  .attr("d", d3.area().x(d => x(d.date)).y0(yR(30)).y1(d => yR(d.v)))
  .attr("fill", "url(#osGrad)");
svg.append("path").datum(rsiPts).attr("d", rsiLine)
  .attr("fill", "none").attr("stroke", "#7E57C2").attr("stroke-width", 2.4).attr("stroke-linejoin", "round");
svg.append("path").datum(pts(rsiMaSeries))
  .attr("d", d3.line().x(d => x(d.date)).y(d => yR(d.v)).curve(d3.curveMonotoneX))
  .attr("fill", "none").attr("stroke", "#FDD835").attr("stroke-width", 2.2);

// ---- frame and pane separators ----
svg.append("rect")
  .attr("x", frame.left).attr("y", frame.top)
  .attr("width", frame.right - frame.left).attr("height", frame.bottom - frame.top)
  .attr("fill", "none").attr("stroke", "#EEF0F3").attr("stroke-width", 2);
svg.append("g").selectAll("line").data([mainPane.bottom, rsiPane.bottom, macdPane.bottom]).join("line")
  .attr("x1", frame.left).attr("x2", frame.right)
  .attr("y1", d => d).attr("y2", d => d)
  .attr("stroke", "#E0E3EB").attr("stroke-width", 2.5);

// ---- axes ----
const styleAxis = g => g
  .attr("font-size", AXIS_SIZE).attr("color", TEXT).attr("letter-spacing", 0.7)
  .call(a => a.select(".domain").remove());

// price labels hidden behind the currency box or the last-value tags are skipped, as on the source
const tagCentres = [y(lastPrice), y(lastPrice) + 34];
svg.append("g").attr("transform", `translate(${axisX},0)`)
  .call(d3.axisRight(y)
    .tickValues(priceTicks.filter(v => y(v) > 125 && tagCentres.every(c => Math.abs(y(v) - c) > 30)))
    .tickFormat(d3.format(",.2f")).tickSize(0).tickPadding(0))
  .call(styleAxis);

svg.append("g").attr("transform", `translate(${axisX},0)`)
  .call(d3.axisRight(yR).tickValues(rsiTicks).tickFormat(d3.format(".2f")).tickSize(0).tickPadding(0))
  .call(styleAxis);

svg.append("g").attr("transform", `translate(0,${1469})`)
  .call(d3.axisBottom(x).tickValues(timeTicks.map(parse))
    .tickFormat((d, i) => timeTickLabels[i]).tickSize(0).tickPadding(0))
  .call(styleAxis)
  .call(g => g.selectAll("text").attr("y", 0).attr("dy", "0.35em")
    .attr("font-weight", (d, i) => /^\d/.test(timeTickLabels[i]) ? 700 : 400));

// ---- last-value labels ----
function valueTag(yc, w, fill, color, label) {
  const g = svg.append("g");
  g.append("rect").attr("x", 1815).attr("y", yc - 17).attr("width", w).attr("height", 34)
    .attr("rx", 3).attr("fill", fill);
  g.append("text").attr("x", axisX).attr("y", yc).attr("dy", "0.35em")
    .attr("font-size", AXIS_SIZE).attr("letter-spacing", 0.7).attr("fill", color).text(label);
  return yc + 17;
}
let bottom = valueTag(y(lastPrice), 109, "#000", "#fff", d3.format(".2f")(lastPrice));
valueTag(Math.max(y(breakoutLevel), bottom + 17), 109, "#F9BC2D", TEXT, d3.format(".2f")(breakoutLevel));
bottom = valueTag(yR(lastRsi), 94, "#7E57C2", "#fff", d3.format(".2f")(lastRsi));
valueTag(Math.max(yR(lastRsiMa), bottom + 17), 94, "#FDD835", TEXT, d3.format(".2f")(lastRsiMa));

// currency box
svg.append("rect").attr("x", 1823).attr("y", 63).attr("width", 126).attr("height", 50).attr("rx", 8)
  .attr("fill", "#fff").attr("stroke", "#E0E3EB").attr("stroke-width", 1.5);
svg.append("text").attr("x", 1841).attr("y", 88).attr("dy", "0.35em")
  .attr("font-size", FONT_SIZE).attr("letter-spacing", 0.7).attr("fill", TEXT).text("USD");

// ---- headers / legends ----
svg.append("text").attr("x", 20).attr("y", 40).attr("font-size", FONT_SIZE).attr("fill", TEXT)
  .text("Jay1104 published on TradingView.com, Feb 24, 2025 16:57 UTC-5");

const legend = svg.append("text").attr("y", 94).attr("font-size", FONT_SIZE).attr("fill", TEXT);
legend.append("tspan").attr("x", 37).text("Lumber (Cash), 1D, PEPPERSTONE");
legend.append("tspan").attr("x", 444).text(d3.format(".2f")(lastPrice));
legend.append("tspan").attr("x", 533).text("+12.00 (+1.97%)");

const rsiLegend = svg.append("text").attr("y", 1180).attr("font-size", FONT_SIZE).attr("fill", TEXT);
rsiLegend.append("tspan").attr("x", 36).text("RSI (14, close)");
rsiLegend.append("tspan").attr("x", 212).attr("fill", "#7E57C2").text(d3.format(".2f")(lastRsi));
rsiLegend.append("tspan").attr("x", 289).attr("fill", "#F5C518").text(d3.format(".2f")(lastRsiMa));
rsiLegend.append("tspan").attr("x", 369).text("\u2205");
rsiLegend.append("tspan").attr("x", 400).text("\u2205");

const macdLegend = svg.append("text").attr("y", 1412).attr("font-size", FONT_SIZE).attr("fill", TEXT);
macdLegend.append("tspan").attr("x", 36).text("MACD (20, 120, close)");
macdLegend.append("tspan").attr("x", 302).attr("fill", "#2962FF").text(d3.format(".2f")(macdValue));

// ---- TradingView mark ----
const logo = svg.append("g").attr("transform", "translate(20,1522)").attr("fill", TEXT);
logo.append("path").attr("d", "M0,0 H15 V20 H8 V7 H0 Z");
logo.append("circle").attr("cx", 20).attr("cy", 4).attr("r", 4);
logo.append("path").attr("d", "M29,0 H39 L31,20 H21 Z");
svg.append("text").attr("x", 66).attr("y", 1541).attr("font-size", 25).attr("font-weight", 500)
  .attr("fill", TEXT).text("TradingView");
</script>
</body>
</html>
